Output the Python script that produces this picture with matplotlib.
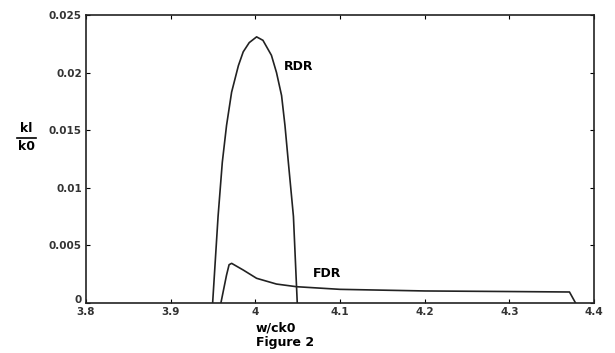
import numpy as np
import matplotlib.pyplot as plt
import matplotlib.transforms as mtransforms

# RDR curve
rdr_w = [3.9496, 3.956, 3.961, 3.966, 3.972, 3.980, 3.9857, 3.9928, 4.0015,
         4.009, 4.019, 4.025, 4.031, 4.035, 4.039, 4.045, 4.0495]
rdr_k = [0.0, 0.0075, 0.0122, 0.0154, 0.0183, 0.0206, 0.0218, 0.0226, 0.0231,
         0.0228, 0.0215, 0.0200, 0.0180, 0.0154, 0.0122, 0.0075, 0.0]

# FDR curve
fdr_w = [3.9594, 3.966, 3.969, 3.972, 3.9857, 4.0015, 4.025, 4.0486, 4.1, 4.2, 4.3, 4.371, 4.378]
fdr_k = [0.0, 0.0024, 0.0033, 0.00342, 0.00284, 0.00212, 0.00162, 0.00139, 0.00116, 0.00102,
         0.00097, 0.00093, 0.0]

xticks = [3.8, 3.9, 4.0, 4.1, 4.2, 4.3, 4.4]
xtick_labels = ['3.8', '3.9', '4', '4.1', '4.2', '4.3', '4.4']
yticks = [0, 0.005, 0.01, 0.015, 0.02, 0.025]
ytick_labels = ['0', '0.005', '0.01', '0.015', '0.02', '0.025']

plt.rcParams['font.family'] = 'DejaVu Sans'
fig = plt.figure(figsize=(6.15, 3.53), dpi=100)
ax = fig.add_axes([0.1398, 0.1425, 0.8261, 0.815])

ax.plot(rdr_w, rdr_k, color='#222222', lw=1.2)
ax.plot(fdr_w, fdr_k, color='#222222', lw=1.2)

ax.set_xlim(3.8, 4.4)
ax.set_ylim(0, 0.025)
ax.set_xticks(xticks)
ax.set_xticklabels(xtick_labels, fontsize=7.5, fontweight='bold', color='#333333')
ax.set_yticks(yticks)
ax.set_yticklabels(ytick_labels, fontsize=7.5, fontweight='bold', color='#333333')
ax.tick_params(direction='in', top=True, right=True, length=3, width=0.8, pad=3)
for s in ax.spines.values():
    s.set_linewidth(1.2)
    s.set_color('#222222')

# nudge the y "0" up a little so it does not sit on top of "3.8"
zero_lbl = ax.get_yticklabels()[0]
zero_lbl.set_transform(zero_lbl.get_transform() +
                       mtransforms.ScaledTranslation(0, 3 / 72, fig.dpi_scale_trans))

ax.text(4.034, 0.0205, 'RDR', fontsize=9, fontweight='heavy', ha='left', va='center')
ax.text(4.068, 0.00255, 'FDR', fontsize=9, fontweight='heavy', ha='left', va='center')

fig.text(0.043, 0.635, 'kl', fontsize=9, fontweight='heavy', ha='center', va='center')
fig.text(0.043, 0.585, 'k0', fontsize=9, fontweight='heavy', ha='center', va='center')
fig.add_artist(plt.Line2D([0.028, 0.058], [0.61, 0.61], color='black', lw=1.2))

fig.text(0.448, 0.07, 'w/ck0', fontsize=9, fontweight='heavy', ha='center', va='center')
fig.text(0.464, 0.03, 'Figure 2', fontsize=9, fontweight='heavy', ha='center', va='center')

fig.savefig('out.png', dpi=100)
